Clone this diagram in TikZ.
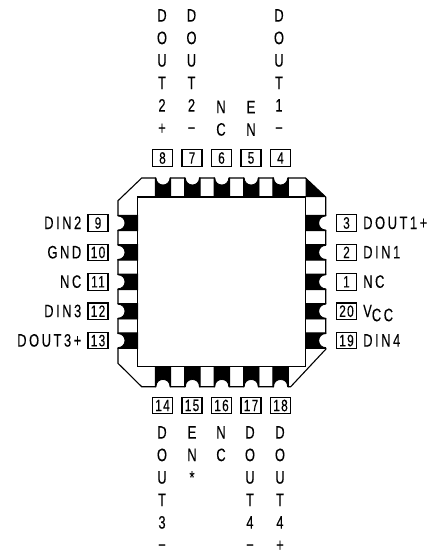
\documentclass[tikz,border=0pt]{standalone}
\usepackage{fontspec}
\setmainfont[FakeStretch=0.72,LetterSpace=14,FakeBold=0.15]{Liberation Sans}
\newfontfamily\boxfont[FakeStretch=0.72,LetterSpace=8,FakeBold=0.15]{Liberation Sans}
\tikzset{
  x=1pt,y=-1pt,
  pinbox/.style={draw,line width=1.1pt,minimum width=20pt,minimum height=16.5pt,inner sep=0pt,anchor=center,font=\boxfont\fontsize{16.5}{18}\selectfont},
  sidelabel/.style={inner sep=0pt,font=\fontsize{18}{20}\selectfont},
  column/.style={inner sep=0pt,anchor=north,align=center,font=\fontsize{18}{22.5}\selectfont},
  pad/.style={fill=black,draw=black,line width=0.8pt},
  outline/.style={draw=black,line width=1.1pt,line join=miter}
}
\begin{document}
\begin{tikzpicture}
\useasboundingbox (0,0) rectangle (429,554);
% outline
\draw[outline] (141.7,178) -- (305.5,178) -- (325.7,197) -- (325.7,349.3) -- (290.7,386.7) -- (141.7,386.7) -- (118,363.3) -- (118,200.7) -- cycle;
\draw[outline] (137.7,197) rectangle (305.7,366.7);
\fill[black] (305.5,178) -- (325.7,197) -- (305.7,197) -- cycle;
% top and bottom pads
\foreach \c in {163,192.4,221.8,251.2,280.6}{
  \fill[white] (\c-7,176) rectangle (\c+7,179);
  \fill[white] (\c-7,385) rectangle (\c+7,388);
  \path[pad] (\c-7.8,197) -- (\c-7.8,178) -- (\c-7,178) .. controls (\c-7,182) and (\c-3.9,185) .. (\c,185) .. controls (\c+3.9,185) and (\c+7,182) .. (\c+7,178) -- (\c+7.8,178) -- (\c+7.8,197) -- cycle;
  \path[pad] (\c-7.8,366.7) -- (\c-7.8,386.7) -- (\c-7,386.7) .. controls (\c-7,382) and (\c-3.9,379.5) .. (\c,379.5) .. controls (\c+3.9,379.5) and (\c+7,382) .. (\c+7,386.7) -- (\c+7.8,386.7) -- (\c+7.8,366.7) -- cycle;
}
% left and right pads
\foreach \c in {223,252.4,281.8,311.2,340.6}{
  \fill[white] (116.5,\c-7) rectangle (119,\c+7);
  \fill[white] (324.7,\c-7) rectangle (327,\c+7);
  \path[pad] (137.7,\c-7.8) -- (118,\c-7.8) -- (118,\c-7) .. controls (122,\c-7) and (125,\c-3.9) .. (125,\c) .. controls (125,\c+3.9) and (122,\c+7) .. (118,\c+7) -- (118,\c+7.8) -- (137.7,\c+7.8) -- cycle;
  \path[pad] (305.7,\c-7.8) -- (325.7,\c-7.8) -- (325.7,\c-7) .. controls (321.7,\c-7) and (318.7,\c-3.9) .. (318.7,\c) .. controls (318.7,\c+3.9) and (321.7,\c+7) .. (325.7,\c+7) -- (325.7,\c+7.8) -- (305.7,\c+7.8) -- cycle;
}
% top boxes
\node[pinbox] (p8) at (162.5,158) {8};
\node[pinbox] (p7) at (192,158) {7};
\node[pinbox] (p6) at (221.5,158) {6};
\node[pinbox] (p5) at (251,158) {5};
\node[pinbox] (p4) at (280.5,158) {4};
% bottom boxes
\node[pinbox] (p14) at (162.5,405.5) {14};
\node[pinbox] (p15) at (192,405.5) {15};
\node[pinbox] (p16) at (221.5,405.5) {16};
\node[pinbox] (p17) at (251,405.5) {17};
\node[pinbox] (p18) at (280.5,405.5) {18};
% left boxes
\node[pinbox] (p9) at (98,223) {9};
\node[pinbox] (p10) at (98,252.4) {10};
\node[pinbox] (p11) at (98,281.8) {11};
\node[pinbox] (p12) at (98,311.2) {12};
\node[pinbox] (p13) at (98,340.6) {13};
% right boxes
\node[pinbox] (p3) at (346.5,223) {3};
\node[pinbox] (p2) at (346.5,252.4) {2};
\node[pinbox] (p1) at (346.5,281.8) {1};
\node[pinbox] (p20) at (346.5,311.2) {20};
\node[pinbox] (p19) at (346.5,340.6) {19};
% left labels
\node[sidelabel,anchor=base east] (l9) at (81.5,229) {DIN2};
\node[sidelabel,anchor=base east] (l10) at (81.5,258.4) {GND};
\node[sidelabel,anchor=base east] (l11) at (81.5,287.8) {NC};
\node[sidelabel,anchor=base east] (l12) at (81.5,317.2) {DIN3};
\node[sidelabel,anchor=base east] (l13) at (81.5,346.6) {DOUT3+};
% right labels
\node[sidelabel,anchor=base west] (l3) at (363,229) {DOUT1+};
\node[sidelabel,anchor=base west] (l2) at (363,258.4) {DIN1};
\node[sidelabel,anchor=base west] (l1) at (363,287.8) {NC};
\node[sidelabel,anchor=base west] (l20) at (363,317.2) {V\raisebox{-4pt}{CC}};
\node[sidelabel,anchor=base west] (l19) at (363,346.6) {DIN4};
% top columns
\node[column] (t8) at (162,9) {D\\O\\U\\T\\2\\+};
\node[column] (t7) at (191.5,9) {D\\O\\U\\T\\2\\−};
\node[column,anchor=south] (t6) at (221,136) {N\\C};
\node[column,anchor=south] (t5) at (251,136) {E\\N};
\node[column] (t4) at (279,9) {D\\O\\U\\T\\1\\−};
% bottom columns
\node[column] (b14) at (162,426) {D\\O\\U\\T\\3\\−};
\node[column] (b15) at (192,426) {E\\N\\*};
\node[column] (b16) at (221,426) {N\\C};
\node[column] (b17) at (250,426) {D\\O\\U\\T\\4\\−};
\node[column] (b18) at (280,426) {D\\O\\U\\T\\4\\+};
\end{tikzpicture}
\end{document}
